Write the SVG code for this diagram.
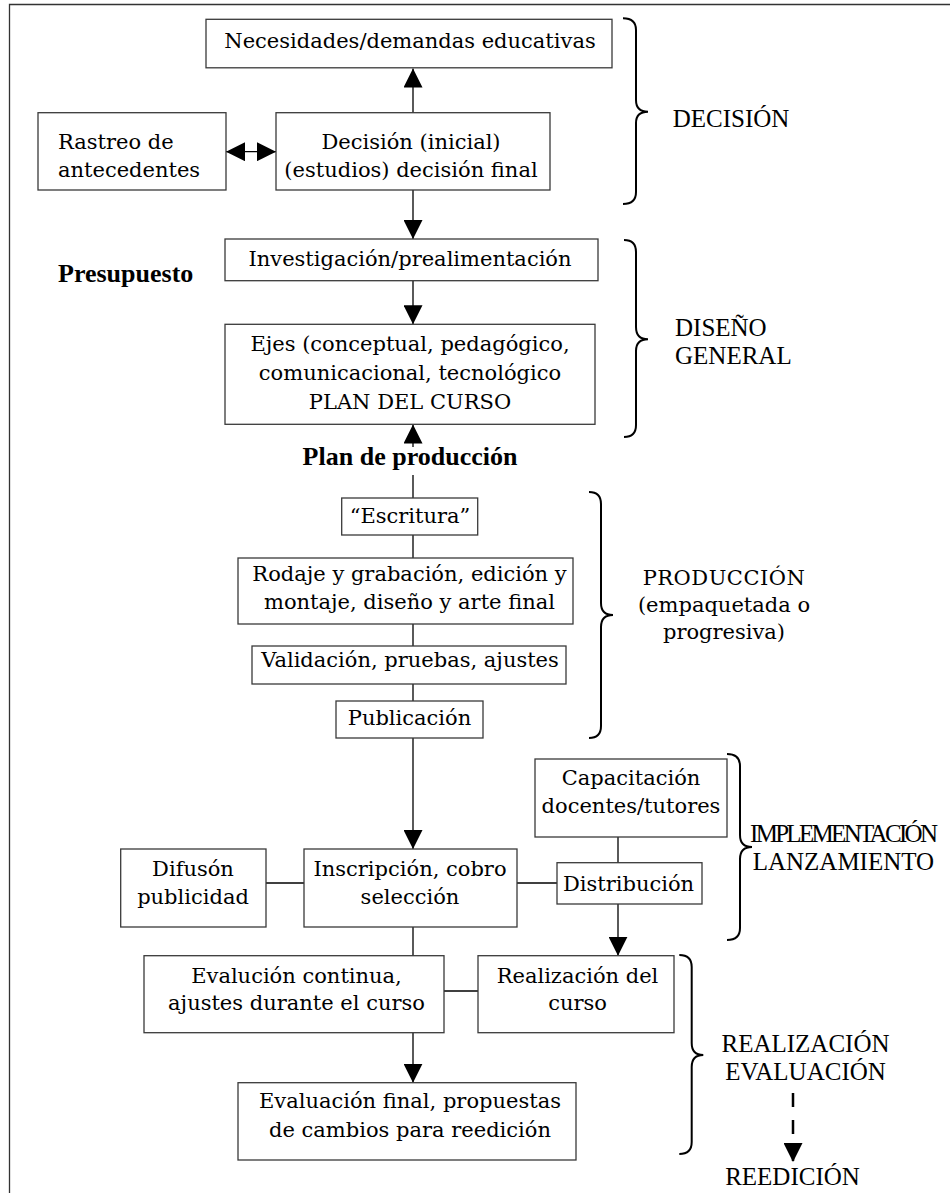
<svg xmlns="http://www.w3.org/2000/svg" width="950" height="1193" viewBox="0 0 950 1193">
<defs>
<marker id="ah" viewBox="0 0 19 19" refX="19" refY="9.5" markerWidth="19" markerHeight="19" markerUnits="userSpaceOnUse" orient="auto-start-reverse"><path d="M0,0 L19,9.5 L0,19 z" fill="#000"/></marker>
</defs>
<style>
.box{fill:#fff;stroke:#3a3a3a;stroke-width:1.3}
.t{font-family:"DejaVu Serif",serif;font-size:21px;fill:#000;text-anchor:middle}
.b{font-family:"Liberation Serif",serif;font-size:26px;font-weight:bold;fill:#000}
.lab{font-family:"Liberation Serif",serif;font-size:25px;fill:#000}
.c{fill:none;stroke:#000;stroke-width:1.3}
.ar{fill:none;stroke:#000;stroke-width:1.3;marker-end:url(#ah)}
.br{fill:none;stroke:#000;stroke-width:2}
</style>
<rect x="0" y="0" width="950" height="1193" fill="#fff"/>
<path d="M9.5,1193 V4.5 H950" fill="none" stroke="#333" stroke-width="1.3"/>

<g id="connectors">
<line class="ar" x1="413" y1="112.7" x2="413" y2="68.5"/>
<line class="c" x1="226" y1="151.7" x2="276" y2="151.7" style="marker-start:url(#ah);marker-end:url(#ah)"/>
<line class="ar" x1="413" y1="190" x2="413" y2="239"/>
<line class="ar" x1="413" y1="280.7" x2="413" y2="324.3"/>
<line class="ar" x1="413" y1="447" x2="413" y2="424.5"/>
<line class="c" x1="413" y1="475" x2="413" y2="498"/>
<line class="c" x1="413" y1="535" x2="413" y2="558"/>
<line class="c" x1="413" y1="624" x2="413" y2="646"/>
<line class="c" x1="413" y1="684" x2="413" y2="701"/>
<line class="ar" x1="413" y1="738" x2="413" y2="849"/>
<line class="c" x1="266" y1="883" x2="304" y2="883"/>
<line class="c" x1="517" y1="883" x2="557" y2="883"/>
<line class="c" x1="618" y1="837" x2="618" y2="863"/>
<line class="ar" x1="618" y1="904" x2="618" y2="955.7"/>
<line class="c" x1="413" y1="927" x2="413" y2="956"/>
<line class="c" x1="444" y1="991" x2="478" y2="991"/>
<line class="ar" x1="413" y1="1032.7" x2="413" y2="1082.7"/>
<line x1="793" y1="1093" x2="793" y2="1162" stroke="#000" stroke-width="2.5" stroke-dasharray="14 13" style="marker-end:url(#ah)"/>
</g>

<g id="necesidades">
<rect class="box" x="206" y="19.3" width="406" height="48.5"/>
<text class="t" x="410" y="47.5">Necesidades/demandas educativas</text>
</g>
<g id="rastreo">
<rect class="box" x="38" y="112.7" width="188" height="77.3"/>
<text class="t" x="58" y="149" style="text-anchor:start">Rastreo de</text>
<text class="t" x="58" y="177" style="text-anchor:start">antecedentes</text>
</g>
<g id="decision">
<rect class="box" x="276" y="112.7" width="274" height="77.3"/>
<text class="t" x="411" y="149">Decisión (inicial)</text>
<text class="t" x="411" y="177">(estudios) decisión final</text>
</g>
<g id="investigacion">
<rect class="box" x="225" y="239" width="373" height="41.7"/>
<text class="t" x="410" y="265.5">Investigación/prealimentación</text>
</g>
<g id="presupuesto">
<text class="b" x="58" y="281.7">Presupuesto</text>
</g>
<g id="ejes">
<rect class="box" x="225" y="324.3" width="370" height="100"/>
<text class="t" x="410" y="351">Ejes (conceptual, pedagógico,</text>
<text class="t" x="410" y="379.5">comunicacional, tecnológico</text>
<text class="t" x="410" y="409">PLAN DEL CURSO</text>
</g>
<g id="plan-produccion">
<text class="b" x="410" y="465" style="text-anchor:middle">Plan de producción</text>
</g>
<g id="escritura">
<rect class="box" x="341.7" y="498" width="136" height="37"/>
<text class="t" x="410" y="523">“Escritura”</text>
</g>
<g id="rodaje">
<rect class="box" x="238" y="558" width="335" height="66"/>
<text class="t" x="409.5" y="581">Rodaje y grabación, edición y</text>
<text class="t" x="409.5" y="609.3">montaje, diseño y arte final</text>
</g>
<g id="validacion">
<rect class="box" x="252" y="646" width="314" height="38"/>
<text class="t" x="410" y="667.3">Validación, pruebas, ajustes</text>
</g>
<g id="publicacion">
<rect class="box" x="336" y="701" width="147" height="37"/>
<text class="t" x="409.5" y="725">Publicación</text>
</g>
<g id="capacitacion">
<rect class="box" x="535" y="759" width="192" height="78"/>
<text class="t" x="631" y="785">Capacitación</text>
<text class="t" x="631" y="812.7">docentes/tutores</text>
</g>
<g id="difuson">
<rect class="box" x="120.7" y="849" width="145.3" height="78"/>
<text class="t" x="193" y="876">Difusón</text>
<text class="t" x="193" y="904">publicidad</text>
</g>
<g id="inscripcion">
<rect class="box" x="304" y="849" width="213" height="78"/>
<text class="t" x="410" y="876">Inscripción, cobro</text>
<text class="t" x="410" y="904">selección</text>
</g>
<g id="distribucion">
<rect class="box" x="557" y="862.7" width="145" height="41.3"/>
<text class="t" x="628.5" y="890.7">Distribución</text>
</g>
<g id="evaluacion-continua">
<rect class="box" x="144" y="955.7" width="300" height="77"/>
<text class="t" x="296.5" y="982.7">Evalución continua,</text>
<text class="t" x="296.5" y="1010">ajustes durante el curso</text>
</g>
<g id="realizacion">
<rect class="box" x="478" y="955.7" width="196" height="77"/>
<text class="t" x="577.5" y="982.7">Realización del</text>
<text class="t" x="577.5" y="1010">curso</text>
</g>
<g id="evaluacion-final">
<rect class="box" x="238" y="1082.7" width="338" height="77.3"/>
<text class="t" x="410" y="1108.3">Evaluación final, propuestas</text>
<text class="t" x="410" y="1137.3">de cambios para reedición</text>
</g>

<g id="fase-decision">
<path class="br" d="M623,18.3 Q636,18.3 636,30 L636,100 Q636,111.7 648,111.7 Q636,111.7 636,123 L636,192 Q636,204 623,204"/>
<text class="lab" x="672.7" y="126.7">DECISIÓN</text>
</g>
<g id="fase-diseno">
<path class="br" d="M624,240 Q636,240 636,252 L636,327 Q636,339.3 648,339.3 Q636,339.3 636,351 L636,425 Q636,437 624,437"/>
<text class="lab" x="675" y="336">DISEÑO</text>
<text class="lab" x="675" y="364">GENERAL</text>
</g>
<g id="fase-produccion">
<path class="br" d="M589,492 Q601,492 601,504 L601,603 Q601,615 613,615 Q601,615 601,627 L601,726 Q601,738 589,738"/>
<text class="t" x="724" y="585" letter-spacing="0.5">PRODUCCIÓN</text>
<text class="t" x="724" y="611.7">(empaquetada o</text>
<text class="t" x="724" y="639">progresiva)</text>
</g>
<g id="fase-implementacion">
<path class="br" d="M727,754 Q740,754 740,766 L740,835 Q740,847 752,847 Q740,847 740,859 L740,928 Q740,940 727,940"/>
<text class="lab" x="750" y="841.7" textLength="188" lengthAdjust="spacing">IMPLEMENTACIÓN</text>
<text class="lab" x="752.7" y="870">LANZAMIENTO</text>
</g>
<g id="fase-realizacion">
<path class="br" d="M679.3,955 Q691.7,955 691.7,967 L691.7,1043 Q691.7,1055 703.3,1055 Q691.7,1055 691.7,1067 L691.7,1142 Q691.7,1154 679.3,1154"/>
<text class="lab" x="805.5" y="1051.7" text-anchor="middle">REALIZACIÓN</text>
<text class="lab" x="805.5" y="1080" text-anchor="middle">EVALUACIÓN</text>
<text class="lab" x="792.5" y="1185" text-anchor="middle">REEDICIÓN</text>
</g>
</svg>
